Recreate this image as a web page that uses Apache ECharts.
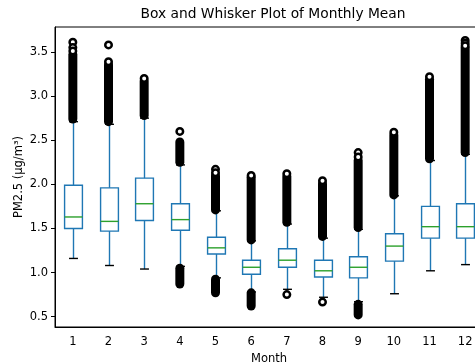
<!DOCTYPE html>
<html>
<head>
<meta charset="utf-8">
<script src="https://cdn.jsdelivr.net/npm/echarts@6/dist/echarts.min.js"></script>
<style>
  html, body { margin: 0; padding: 0; background: #fff; }
  #chart { width: 475px; height: 364px; }
</style>
</head>
<body>
<div id="chart"></div>
<script>
const months = ['1', '2', '3', '4', '5', '6', '7', '8', '9', '10', '11', '12'];
const yTicks = [0.5, 1.0, 1.5, 2.0, 2.5, 3.0, 3.5];

// box statistics per month
const whiskerLow  = [1.16, 1.08, 1.04, 1.07, 0.94, 0.78, 0.81, 0.72, 0.67, 0.76, 1.02, 1.09];
const q1          = [1.50, 1.47, 1.59, 1.48, 1.21, 0.98, 1.06, 0.95, 0.94, 1.13, 1.39, 1.39];
const median      = [1.63, 1.58, 1.78, 1.60, 1.28, 1.06, 1.14, 1.02, 1.06, 1.30, 1.52, 1.52];
const q3          = [1.99, 1.96, 2.07, 1.78, 1.40, 1.14, 1.27, 1.14, 1.18, 1.44, 1.75, 1.78];
const whiskerHigh = [2.71, 2.68, 2.75, 2.22, 1.70, 1.36, 1.55, 1.39, 1.49, 1.87, 2.27, 2.34];

// dense outlier runs: [month index, lowest, highest]
const outlierRuns = [
  [0, 2.74, 3.47], [1, 2.71, 3.36], [2, 2.78, 3.17],
  [3, 2.25, 2.48], [3, 0.87, 1.05],
  [4, 1.71, 2.10], [4, 0.77, 0.925],
  [5, 1.37, 2.08], [5, 0.62, 0.77],
  [6, 1.57, 2.09], [7, 1.41, 2.01],
  [8, 1.51, 2.27], [8, 0.52, 0.64],
  [9, 1.88, 2.56], [10, 2.29, 3.19], [11, 2.36, 3.55]
];

// single visible outliers: [month index, value]
const outlierPoints = [
  [0, 3.61], [0, 3.55], [0, 3.51], [1, 3.58], [1, 3.39], [2, 3.20],
  [3, 2.60], [4, 2.17], [4, 2.13], [5, 2.10], [6, 2.12], [7, 2.04],
  [8, 2.36], [8, 2.31], [9, 2.59], [10, 3.22], [11, 3.63], [11, 3.60],
  [11, 3.57], [6, 0.75], [7, 0.665]
];

const blue = '#1f77b4';
const green = '#2ca02c';
const font = 'DejaVu Sans';

const boxData = months.map((m, i) => [i, whiskerLow[i], q1[i], median[i], q3[i], whiskerHigh[i]]);

function renderBox(params, api) {
  const idx = api.value(0);
  const band = api.size([1, 0])[0];
  const boxW = band * 0.5;
  const capW = band * 0.25;
  const p = v => api.coord([idx, v]);
  const lo = p(api.value(1)), b1 = p(api.value(2)), md = p(api.value(3));
  const b3 = p(api.value(4)), hi = p(api.value(5));
  const cx = Math.round(lo[0]) + 0.5;
  const line = (x1, y1, x2, y2, color) => ({
    type: 'line',
    shape: { x1, y1, x2, y2 },
    style: { stroke: color, lineWidth: 1.4 }
  });
  return {
    type: 'group',
    children: [
      line(cx, hi[1], cx, b3[1], blue),
      line(cx, b1[1], cx, lo[1], blue),
      {
        type: 'rect',
        shape: { x: cx - boxW / 2, y: b3[1], width: boxW, height: b1[1] - b3[1] },
        style: { fill: 'none', stroke: blue, lineWidth: 1.4 }
      },
      line(cx - boxW / 2, md[1], cx + boxW / 2, md[1], green),
      line(cx - capW / 2, lo[1], cx + capW / 2, lo[1], '#000'),
      line(cx - capW / 2, hi[1], cx + capW / 2, hi[1], '#000')
    ]
  };
}

function renderRun(params, api) {
  const idx = api.value(0);
  const a = api.coord([idx, api.value(1)]);
  const b = api.coord([idx, api.value(2)]);
  return {
    type: 'line',
    shape: { x1: a[0], y1: a[1], x2: b[0], y2: b[1] },
    style: { stroke: '#000', lineWidth: 9, lineCap: 'round' }
  };
}

const chart = echarts.init(document.getElementById('chart'));
chart.setOption({
  animation: false,
  backgroundColor: '#fff',
  title: {
    text: 'Box and Whisker Plot of Monthly Mean',
    left: 268,
    top: 2,
    textAlign: 'center',
    textStyle: { fontFamily: font, fontSize: 13.8, fontWeight: 'normal', color: '#000' }
  },
  grid: {
    left: 55,
    width: 428,
    top: 27,
    bottom: 37,
    outerBoundsMode: 'none',
    containLabel: false,
    show: true,
    borderColor: '#000',
    borderWidth: 1
  },
  xAxis: {
    type: 'category',
    data: months,
    boundaryGap: true,
    name: 'Month',
    nameLocation: 'middle',
    nameGap: 26,
    nameMoveOverlap: false,
    nameTextStyle: { fontFamily: font, fontSize: 11.5, color: '#000' },
    axisLine: { lineStyle: { color: '#000', width: 1 } },
    axisTick: { alignWithLabel: true, length: 4, lineStyle: { color: '#000' } },
    axisLabel: { fontFamily: font, fontSize: 11.5, color: '#000', margin: 9 },
    splitLine: { show: false }
  },
  yAxis: {
    type: 'value',
    min: 0.383,
    max: 3.783,
    name: 'PM2.5 (µg/m³)',
    nameLocation: 'middle',
    nameGap: 30,
    nameMoveOverlap: false,
    nameTextStyle: { fontFamily: font, fontSize: 11.5, color: '#000' },
    axisLine: { show: true, lineStyle: { color: '#000', width: 1 } },
    axisTick: { show: true, length: 4, customValues: yTicks, lineStyle: { color: '#000' } },
    axisLabel: {
      fontFamily: font, fontSize: 11.5, color: '#000', margin: 7,
      customValues: yTicks,
      formatter: v => v.toFixed(1)
    },
    splitLine: { show: false }
  },
  series: [
    {
      type: 'custom',
      renderItem: renderBox,
      data: boxData,
      encode: { x: 0, y: [1, 2, 3, 4, 5] },
      z: 2
    },
    {
      type: 'custom',
      renderItem: renderRun,
      data: outlierRuns,
      encode: { x: 0, y: [1, 2] },
      z: 3
    },
    {
      type: 'scatter',
      data: outlierPoints,
      symbol: 'circle',
      symbolSize: 6.5,
      itemStyle: { color: '#fff', borderColor: '#000', borderWidth: 2.5, opacity: 1 },
      z: 4
    }
  ]
});
</script>
</body>
</html>
